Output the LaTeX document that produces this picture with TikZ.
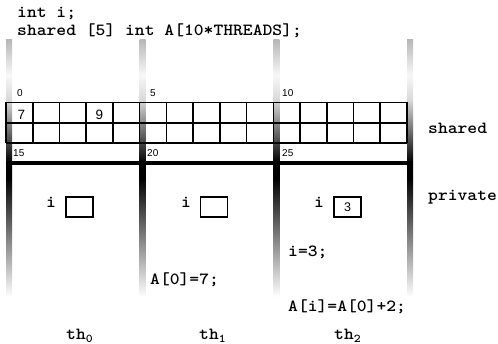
\documentclass[tikz,border=0pt]{standalone}
\usepackage{fontspec}
\setmainfont{Liberation Serif}
\setsansfont{Liberation Sans}
\newfontfamily\codefont{lmmonolt10-bold}[Extension=.otf, FakeStretch=1.1]
\definecolor{gA}{gray}{0.72}
\definecolor{gB}{gray}{0.97}
\definecolor{gC}{gray}{0.85}
\pgfdeclareverticalshading{barshade}{100bp}{color(0bp)=(white); color(25bp)=(white); color(48.15bp)=(black); color(51.07bp)=(black); color(63.33bp)=(gC); color(68.19bp)=(gB); color(75bp)=(gA); color(100bp)=(gA)}
\begin{document}
\begin{tikzpicture}[x=1pt,y=-1pt,
  code/.style={font=\codefont\fontsize{17}{19}\selectfont, inner sep=0pt, anchor=base west},
  idx/.style={font=\sffamily\fontsize{10}{12}\selectfont, inner sep=0pt, anchor=base west},
  val/.style={font=\sffamily\fontsize{13.5}{15}\selectfont, inner sep=0pt},
  varbox/.style={draw, line width=1.5pt, minimum width=27pt, minimum height=20pt, inner sep=0pt, font=\sffamily\fontsize{12.5}{14}\selectfont},
  gridline/.style={line width=1.6pt},
  bar/.style={shading=barshade}]
\useasboundingbox (0,0) rectangle (498,344);
% gradient bars
\foreach \bx in {6,139.7,273.3,407} {
  \shade[bar] (\bx,40) rectangle (\bx+6,297);
}
% grid
\foreach \k in {0,...,15} {
  \draw[gridline] (6+\k*26.733,102.5) -- (6+\k*26.733,143);
}
\draw[gridline] (6,102.5) -- (407,102.5);
\draw[gridline] (6,123) -- (407,123);
\draw[gridline] (6,143) -- (407,143);
\draw[line width=4.5pt] (6,163) -- (413,163);
% top declarations
\node[code] (decl1) at (17,18) {int i;};
\node[code] (decl2) at (17,36) {shared [5] int A[10*THREADS];};
% indices
\node[idx] (n0) at (17,97) {0};
\node[idx] (n5) at (150,97) {5};
\node[idx] (n10) at (282,97) {10};
\node[idx] (n15) at (13,157) {15};
\node[idx] (n20) at (147,157) {20};
\node[idx] (n25) at (282,157) {25};
% values
\node[val] (v7) at (21.5,115) {7};
\node[val] (v9) at (99.5,115) {9};
% side labels
\node[code] (lshared) at (428,134) {shared};
\node[code] (lprivate) at (428,201) {private};
% private i
\node[code, anchor=base] (i0) at (51,208) {i};
\node[code, anchor=base] (i1) at (186,208) {i};
\node[code, anchor=base] (i2) at (319,208) {i};
\node[varbox] (b0) at (79.5,207) {};
\node[varbox] (b1) at (214,207) {};
\node[varbox] (b2) at (347.5,207) {3};
% statements
\node[code] (s1) at (288,257) {i=3;};
\node[code] (s2) at (150,285) {A[0]=7;};
\node[code] (s3) at (288,312) {A[i]=A[0]+2;};
% thread labels
\node[code] (t0) at (66,340) {th\textsubscript{0}};
\node[code] (t1) at (199,340) {th\textsubscript{1}};
\node[code] (t2) at (334,340) {th\textsubscript{2}};
\end{tikzpicture}
\end{document}
